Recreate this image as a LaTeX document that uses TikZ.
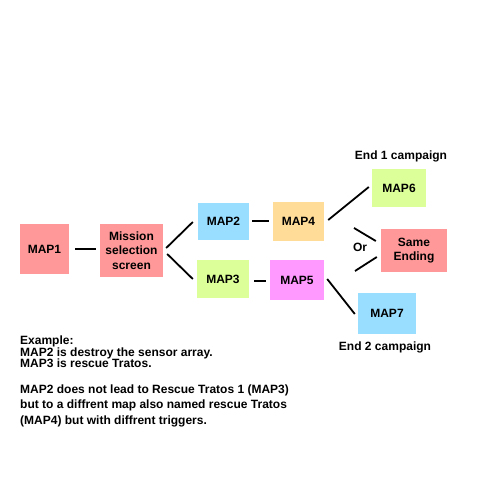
\documentclass[tikz,border=0pt]{standalone}
\usepackage{fontspec}
\setmainfont{Liberation Sans}
\begin{document}
\begin{tikzpicture}[x=1pt,y=-1pt,
  every node/.style={font=\fontsize{12}{14.5}\selectfont\bfseries, inner sep=0pt},
  box/.style={rectangle, align=center},
  conn/.style={draw=black, line width=1.8pt},
  note/.style={anchor=base west, align=left}]
\useasboundingbox[fill=white] (0,0) rectangle (500,500);
\definecolor{cred}{HTML}{FF9999}
\definecolor{cblue}{HTML}{99DDFF}
\definecolor{cgreen}{HTML}{DDFF99}
\definecolor{corange}{HTML}{FFDD99}
\definecolor{cpink}{HTML}{FF99FF}

\node[box, fill=cred, minimum width=49pt, minimum height=50pt] (map1) at (44.5,249) {MAP1};
\node[box, fill=cred, minimum width=63pt, minimum height=53pt] (mss) at (131.5,250.5) {Mission\\selection\\screen};
\node[box, fill=cblue, minimum width=51pt, minimum height=37pt] (map2) at (223.5,221.5) {MAP2};
\node[box, fill=cgreen, minimum width=52pt, minimum height=38pt] (map3) at (223,279) {MAP3};
\node[box, fill=corange, minimum width=51pt, minimum height=39pt] (map4) at (298.5,221.5) {MAP4};
\node[box, fill=cpink, minimum width=54pt, minimum height=40pt] (map5) at (297,280) {MAP5};
\node[box, fill=cgreen, minimum width=54pt, minimum height=38pt] (map6) at (399,188) {MAP6};
\node[box, fill=cred, minimum width=66pt, minimum height=43pt] (same) at (414,250.5) {Same\\Ending};
\node[box, fill=cblue, minimum width=58pt, minimum height=41pt] (map7) at (387,313.5) {MAP7};

\node (end1) at (401,156) {End 1 campaign};
\node (end2) at (385,347) {End 2 campaign};
\node (or) at (360,247) {Or};

\draw[conn] ([shift={(6,0)}]map1.east) -- ([shift={(-4,-1.5)}]mss.west);
\draw[conn] ([shift={(3,-2.5)}]mss.east) -- ([shift={(-5,0.5)}]map2.west);
\draw[conn] ([shift={(4,3.5)}]mss.east) -- ([shift={(-4,0)}]map3.west);
\draw[conn] ([shift={(3,-0.5)}]map2.east) -- ([shift={(-4,-0.5)}]map4.west);
\draw[conn] ([shift={(5,2)}]map3.east) -- ([shift={(-4,1)}]map5.west);
\draw[conn] ([shift={(4,-1.5)}]map4.east) -- ([shift={(-3,-1)}]map6.west);
\draw[conn] ([shift={(-6,-19)}]or.center) -- ([shift={(-5,-9.5)}]same.west);
\draw[conn] ([shift={(-5,24)}]or.center) -- ([shift={(-4,6.5)}]same.west);
\draw[conn] ([shift={(3,-1)}]map5.east) -- ([shift={(-3,0.5)}]map7.west);

\node[note] (ex1) at (20,344) {Example:};
\node[note] (ex2) at (20,356) {MAP2 is destroy the sensor array.};
\node[note] (ex3) at (20,367) {MAP3 is rescue Tratos.};
\node[note] (ex4) at (20,393) {MAP2 does not lead to Rescue Tratos 1 (MAP3)};
\node[note] (ex5) at (20,408.5) {but to a diffrent map also named rescue Tratos};
\node[note] (ex6) at (20,424) {(MAP4) but with diffrent triggers.};
\end{tikzpicture}
\end{document}
